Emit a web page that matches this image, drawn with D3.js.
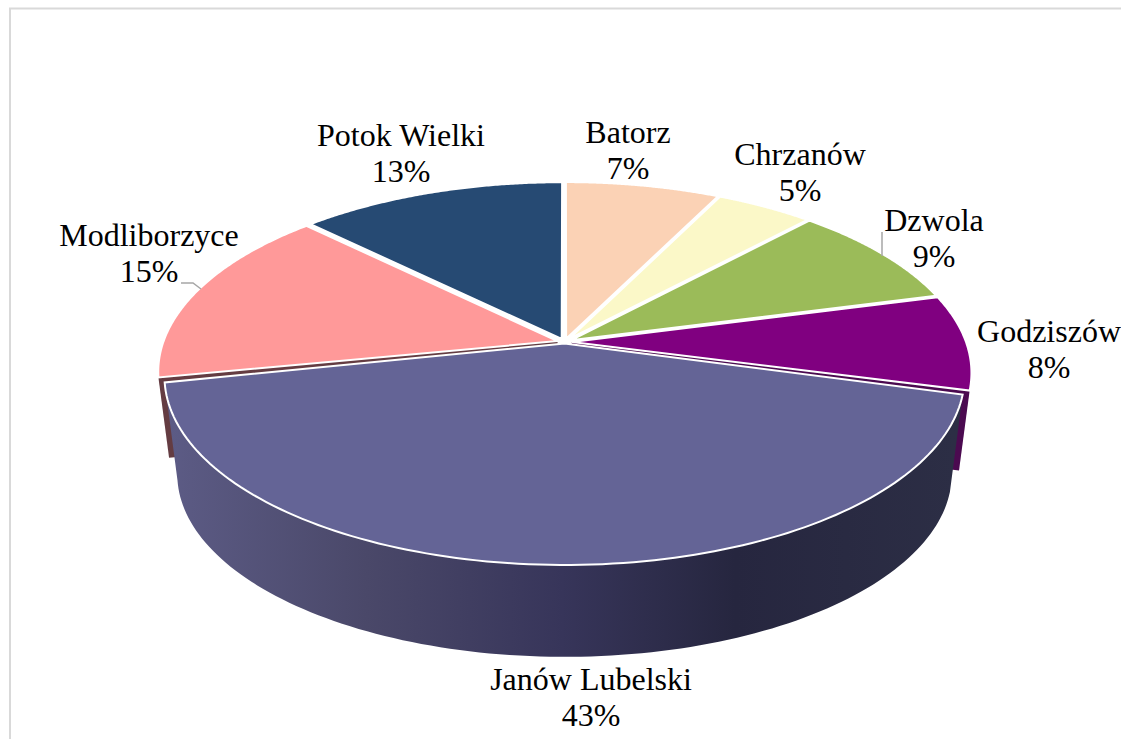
<!DOCTYPE html>
<html><head><meta charset="utf-8">
<style>html,body{margin:0;padding:0;background:#fff}svg{display:block}text{font-family:"Liberation Serif","Times New Roman",serif;fill:#000}</style>
<script src="https://d3js.org/d3.v7.min.js"></script></head>
<body><svg id="c" width="1121" height="739"></svg>
<script>
const categories = ["Batorz","Chrzanów","Dzwola","Godziszów","Janów Lubelski","Modliborzyce","Potok Wielki"];
const shares = [7.3,4.6,9.0,8.2,42.8,15.49,12.61];
const sliceColors = ["#fbd2b5","#fbf8c8","#9bbb59","#800080","#646496","#ff9999","#264a73"];
const wallColors = [null,null,null,"#4b0a50",null,"#643c42",null];

// label anchors (centre of the text block's first baseline)
const labelAnchors = [[628,143],[800,165],[934,231],[1049,342],[591,690],[149,246],[401,146]];

const svg = d3.select("#c");
const cx = 564.5, y0 = 342, A = 401.5, B = 186.3, p = 0.1645;
const depth = 99, floorScale = 0.968;
const explode = 0.018, mainRadius = 0.98, mainDrop = 0.02, apexLift = 0.012;

const pie = d3.pie().sort(null).value(d=>d)(shares);

// perspective projection of the pie disc
function project(X,Y,level){
  const w = 1 - p*Y;
  const top = [cx + A*X/w, y0 + B*Y/w];
  const bot = [cx + floorScale*A*X/w, y0 + depth + floorScale*B*Y/w];
  return [top[0]+(bot[0]-top[0])*level, top[1]+(bot[1]-top[1])*level];
}
function slicePoint(d,i,t,r,level){
  const mid=(d.startAngle+d.endAngle)/2;
  const isMain = i===4;
  const rad = r*(isMain?mainRadius:1-explode);
  const ox = isMain?0:explode*Math.sin(mid), oy = isMain?mainDrop-(r===0?apexLift:0):-explode*Math.cos(mid);
  return project(ox+rad*Math.sin(t), oy-rad*Math.cos(t), level);
}
const line = d3.line();
function rim(d,i,level){
  const a = d3.scaleLinear().domain([0,120]).range([d.startAngle,d.endAngle]);
  return d3.range(121).map(k=>slicePoint(d,i,a(k),1,level));
}
function topPath(d,i){
  return line([slicePoint(d,i,0,0,0),...rim(d,i,0)])+"Z";
}

svg.append("rect").attr("x",0).attr("y",0).attr("width",1121).attr("height",739).attr("fill","#fff");
svg.append("path").attr("d","M10,739V8.5H1121").attr("fill","none").attr("stroke","#d9d9d9").attr("stroke-width",2);

const defs = svg.append("defs");
const grad = defs.append("linearGradient").attr("id","side").attr("gradientUnits","userSpaceOnUse")
  .attr("x1",170).attr("x2",955).attr("y1",0).attr("y2",0);
[[0,"#5c5b85"],[0.25,"#4a4869"],[0.5,"#37355a"],[0.72,"#26263f"],[1,"#2c2e45"]]
  .forEach(s=>grad.append("stop").attr("offset",s[0]).attr("stop-color",s[1]));

// radial walls of the slices next to the main slice
pie.forEach((d,i)=>{
  if(!wallColors[i]) return;
  const t = i===3?d.endAngle:d.startAngle;
  const lvl = 0.82;
  const poly=[slicePoint(d,i,t,0,0),slicePoint(d,i,t,1,0),slicePoint(d,i,t,1,lvl),slicePoint(d,i,t,0,lvl)];
  svg.append("path").attr("d",line(poly)+"Z").attr("fill",wallColors[i]);
});

// tops of the back slices
pie.forEach((d,i)=>{
  if(i===4) return;
  svg.append("path").attr("d",topPath(d,i)).attr("fill",sliceColors[i])
    .attr("stroke","#fff").attr("stroke-width",2).attr("stroke-linejoin","miter");
});

// main slice: outer wall then top
const md = pie[4];
const side=[...rim(md,4,0),...rim(md,4,1).reverse()];
svg.append("path").attr("d",line(side)+"Z").attr("fill","url(#side)");
svg.append("path").attr("d",topPath(md,4)).attr("fill",sliceColors[4])
  .attr("stroke","#fff").attr("stroke-width",2).attr("stroke-linejoin","miter");

// leader lines
const leader = [[[181,283],[193,283],[201,289]],[[882,232],[882,256]]];
leader.forEach(l=>svg.append("path").attr("d",line(l)).attr("fill","none").attr("stroke","#a6a6a6").attr("stroke-width",1.5));

// data labels
const fs=32;
pie.forEach((d,i)=>{
  const [x,y]=labelAnchors[i];
  const t=svg.append("text").attr("text-anchor","middle").attr("font-size",fs);
  t.append("tspan").attr("x",x).attr("y",y).text(categories[i]);
  t.append("tspan").attr("x",x).attr("y",y+36).text(Math.round(shares[i])+"%");
});
</script></body></html>
